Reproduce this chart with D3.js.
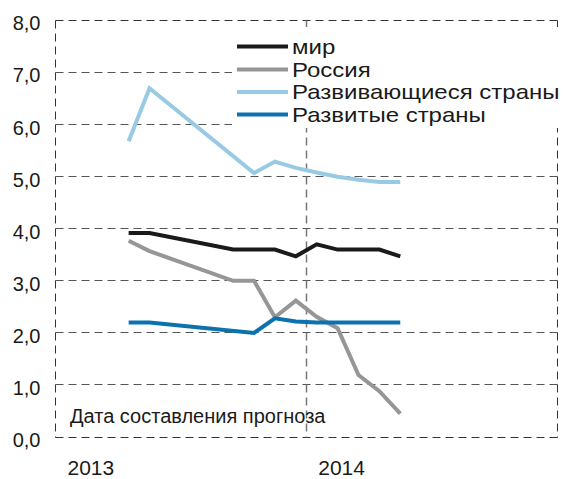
<!DOCTYPE html>
<html>
<head>
<meta charset="utf-8">
<script src="https://cdn.jsdelivr.net/npm/d3@7"></script>
<style>
  html, body { margin: 0; padding: 0; background: #fff; }
  svg { display: block; font-family: "Liberation Sans", Arial, sans-serif; }
</style>
</head>
<body>
<svg id="chart" width="564" height="479"></svg>
<script>
// ---- data ----
const yTicks = [0, 1, 2, 3, 4, 5, 6, 7, 8];
const yearLabels = ["2013", "2014"];
const yearStarts = [0, 12];            // month index where each year starts
const annotation = "Дата составления прогноза";

const seriesNames = ["мир", "Россия", "Развивающиеся страны", "Развитые страны"];
const seriesColors = ["#1a1a1a", "#969696", "#98cae3", "#0a72ae"];

// month index (0 = Jan 2013) of each forecast, and forecast values
const worldMonths = [3, 4, 8, 9, 10, 11, 12, 13, 14, 15, 16];
const worldValues = [3.92, 3.92, 3.6, 3.6, 3.6, 3.47, 3.7, 3.6, 3.6, 3.6, 3.47];

const russiaMonths = [3, 4, 8, 9, 10, 11, 12, 13, 14, 15, 16];
const russiaValues = [3.77, 3.57, 3.0, 3.0, 2.3, 2.62, 2.31, 2.09, 1.19, 0.88, 0.45];

const emergingMonths = [3, 4, 9, 10, 11, 12, 13, 14, 15, 16];
const emergingValues = [5.68, 6.7, 5.07, 5.29, 5.17, 5.08, 5.0, 4.94, 4.9, 4.9];

const developedMonths = [3, 4, 9, 10, 11, 12, 13, 14, 15, 16];
const developedValues = [2.2, 2.2, 2.0, 2.28, 2.22, 2.2, 2.2, 2.2, 2.2, 2.2];

// ---- layout ----
const svg = d3.select("#chart");
const plotLeft = 55.5, plotRight = 557, plotTop = 20.5, plotBottom = 437;

const x = d3.scaleLinear().domain([0, 24]).range([plotLeft, plotRight]);
const y = d3.scaleLinear().domain([0, 8]).range([plotBottom, plotTop]);
const crisp = v => Math.round(v - 0.5) + 0.5;

// gridlines
const grid = svg.append("g");
yTicks.forEach(t => {
  const yy = crisp(y(t));
  const outer = (t === 0 || t === 8);
  grid.append("line")
    .attr("x1", crisp(plotLeft)).attr("x2", crisp(plotRight))
    .attr("y1", yy).attr("y2", yy)
    .attr("stroke", outer ? "#333" : "#555")
    .attr("stroke-width", 1)
    .attr("stroke-dasharray", "8,5");
});
[0, 12, 24].forEach(m => {
  const xx = crisp(x(m));
  const outer = (m === 0 || m === 24);
  grid.append("line")
    .attr("x1", xx).attr("x2", xx)
    .attr("y1", crisp(plotTop)).attr("y2", crisp(plotBottom))
    .attr("stroke", outer ? "#333" : "#777")
    .attr("stroke-width", outer ? 1 : 1.5)
    .attr("stroke-dasharray", "8,5");
});

// y axis labels
const yAxis = d3.axisLeft(y).tickValues(yTicks).tickSize(0)
  .tickFormat(d => d3.format(".1f")(d).replace(".", ","));
const ga = svg.append("g").attr("transform", `translate(${plotLeft - 15},3)`).call(yAxis);
ga.select(".domain").remove();
ga.selectAll("text").attr("font-size", 20).attr("fill", "#1a1a1a")
  .attr("font-family", "Liberation Sans, Arial, sans-serif").attr("x", 0);

// year labels
yearLabels.forEach((lab, i) => {
  svg.append("text")
    .attr("x", x(yearStarts[i]) + 12)
    .attr("y", 475)
    .attr("font-size", 21)
    .attr("fill", "#1a1a1a")
    .text(lab);
});

// annotation
svg.append("text")
  .attr("x", 70).attr("y", 423)
  .attr("font-size", 20)
  .attr("fill", "#1a1a1a")
  .text(annotation);

// legend background
svg.append("rect")
  .attr("x", 232).attr("y", 27).attr("width", 332).attr("height", 101)
  .attr("fill", "#fff");

// series lines
const allMonths = [worldMonths, russiaMonths, emergingMonths, developedMonths];
const allValues = [worldValues, russiaValues, emergingValues, developedValues];
const line = d3.line().x(d => x(d[0] + 0.5)).y(d => y(d[1]));
allMonths.forEach((ms, i) => {
  const pts = ms.map((m, j) => [m, allValues[i][j]]);
  svg.append("path")
    .attr("d", line(pts))
    .attr("fill", "none")
    .attr("stroke", seriesColors[i])
    .attr("stroke-width", 4)
    .attr("stroke-linejoin", "miter");
});

// legend
const legY = [46.5, 69.5, 92, 114.5];
seriesNames.forEach((name, i) => {
  svg.append("line")
    .attr("x1", 237).attr("x2", 288)
    .attr("y1", legY[i]).attr("y2", legY[i])
    .attr("stroke", seriesColors[i]).attr("stroke-width", 4);
  svg.append("text")
    .attr("transform", `translate(292,${legY[i] + 7}) scale(1.2,1)`)
    .attr("font-size", 20)
    .attr("fill", "#1a1a1a")
    .text(name);
});
</script>
</body>
</html>
